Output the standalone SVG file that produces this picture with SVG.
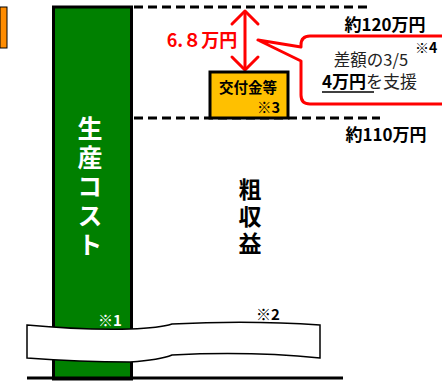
<svg xmlns="http://www.w3.org/2000/svg" width="442" height="381" viewBox="0 0 442 381">
<style>
.jp{font-family:"Noto Sans CJK JP","Noto Sans",sans-serif}
.b{font-weight:bold}
.dash{stroke:#000;stroke-width:3;stroke-dasharray:9 5;fill:none}
.vt{writing-mode:vertical-rl;text-orientation:upright}
</style>
<rect width="442" height="381" fill="#fff"/>
<rect x="0" y="7" width="7" height="41" fill="#ff8c00" stroke="#000" stroke-width="1"/>
<g id="connectors">
<line class="dash" x1="134" y1="7" x2="372" y2="7"/>
<line class="dash" x1="134" y1="118" x2="380" y2="118"/>
<g stroke="#ff0000" stroke-width="3" fill="none" stroke-linecap="round" stroke-linejoin="round">
<line x1="245" y1="12" x2="245" y2="69"/>
<polyline points="232,24 245,11 258,24"/>
<polyline points="232,57 245,70 258,57"/>
</g>
</g>
<g id="cost">
<rect x="53.5" y="7" width="78" height="372" fill="#008000" stroke="#000" stroke-width="3"/>
<text class="jp b vt" x="90" y="116" font-size="25" letter-spacing="4" fill="#fff">生産コスト</text>
</g>
<g id="revenue">
<text class="jp b vt" x="250" y="178" font-size="23" letter-spacing="4" fill="#000">粗収益</text>
</g>
<g id="subsidy">
<rect x="210" y="72" width="78" height="46" fill="#ffc000" stroke="#000" stroke-width="3"/>
<text class="jp b" x="248" y="93" font-size="14.5" text-anchor="middle">交付金等</text>
<text class="jp b" x="280" y="113" font-size="14.5" text-anchor="end">※3</text>
</g>
<g id="diff">
<text class="jp b" x="202" y="47" font-size="18" fill="#ff0000" text-anchor="middle">6.８万円</text>
</g>
<g id="callout">
<path d="M310,36 H452 V104 H310 Q301,104 301,95 V61 L258,40 L301,47 V45 Q301,36 310,36 Z" fill="#fff" stroke="#ff0000" stroke-width="3" stroke-linejoin="round"/>
<text class="jp" x="371" y="66" font-size="16.5" text-anchor="middle" fill="#222">差額の3/5</text>
<text class="jp b" x="415" y="53" font-size="14">※4</text>
<text class="jp" x="322" y="88" font-size="17" fill="#222"><tspan font-weight="bold" fill="#000">4万円</tspan>を支援</text>
<line x1="322" y1="92" x2="374" y2="92" stroke="#000" stroke-width="1.5"/>
</g>
<g id="labels">
<text class="jp b" x="385" y="31" font-size="17" text-anchor="middle">約120万円</text>
<text class="jp b" x="386" y="141" font-size="17" text-anchor="middle">約110万円</text>
</g>
<g id="band">
<path d="M27,325 Q80,330 130,329 Q160,328 172,324 Q250,320 320,325 V358 Q250,351 172,355 Q160,360 130,362 Q80,362 27,358 Z" fill="#fff" stroke="#000" stroke-width="1.5"/>
<text class="jp b" x="110" y="326" font-size="15" fill="#fff" text-anchor="middle">※1</text>
<text class="jp b" x="268" y="320" font-size="15" text-anchor="middle">※2</text>
</g>
<line x1="27" y1="378" x2="343" y2="378" stroke="#000" stroke-width="3"/>
</svg>
